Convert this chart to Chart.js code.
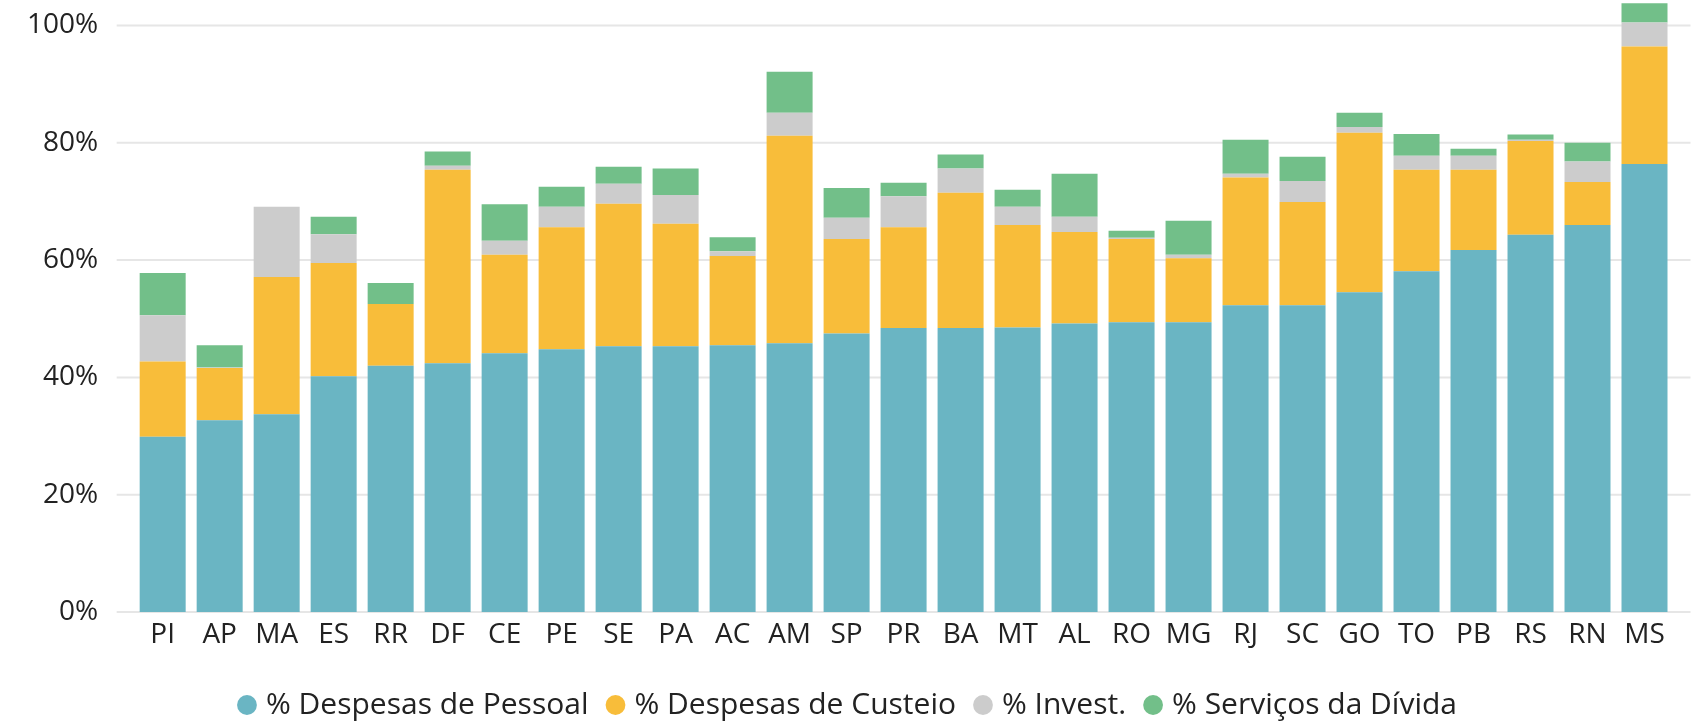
<!DOCTYPE html>
<html>
<head>
<meta charset="utf-8">
<script src="https://cdn.jsdelivr.net/npm/chart.js@4.4.1/dist/chart.umd.min.js"></script>
<style>
  html, body { margin: 0; padding: 0; background: #fff; }
  #wrap { width: 1699px; height: 722px; }
</style>
</head>
<body>
<div id="wrap"><canvas id="chart" width="1699" height="722"></canvas></div>
<script>
const estados = ["PI", "AP", "MA", "ES", "RR", "DF", "CE", "PE", "SE", "PA", "AC", "AM", "SP", "PR",
    "BA", "MT", "AL", "RO", "MG", "RJ", "SC", "GO", "TO", "PB", "RS", "RN", "MS"];

// percentuais
const pessoal = [29.9, 32.7, 33.7, 40.2, 42.0, 42.4, 44.1, 44.8, 45.3, 45.3, 45.5, 45.8, 47.5, 48.4,
    48.4, 48.5, 49.2, 49.4, 49.4, 52.3, 52.3, 54.5, 58.1, 61.7, 64.3, 66.0, 76.4];
const custeio = [12.8, 8.9, 23.4, 19.3, 10.5, 33.0, 16.8, 20.8, 24.3, 20.9, 15.2, 35.4, 16.1, 17.2,
    23.1, 17.5, 15.6, 14.2, 10.9, 21.8, 17.6, 27.2, 17.3, 13.7, 16.0, 7.3, 20.0];
const invest = [7.9, 0.1, 12.0, 4.9, 0, 0.7, 2.4, 3.5, 3.4, 4.9, 0.8, 3.9, 3.6, 5.3,
    4.1, 3.1, 2.6, 0.2, 0.6, 0.6, 3.6, 1.0, 2.4, 2.4, 0.2, 3.5, 4.1];
const divida = [7.2, 3.8, 0, 3.0, 3.6, 2.4, 6.2, 3.4, 2.9, 4.5, 2.4, 7.0, 5.1, 2.3,
    2.4, 2.9, 7.3, 1.2, 5.8, 5.8, 4.1, 2.4, 3.7, 1.2, 0.9, 3.2, 3.3];

const yTicks = [0, 20, 40, 60, 80, 100];

const FONT = "'Open Sans', 'Noto Sans', sans-serif";

// grid lines run a bit past the bars on both sides, like the original
const gridLines = {
    id: "gridLines",
    beforeDatasetsDraw(chart) {
        const { ctx, chartArea, scales } = chart;
        const ext = 17.5;
        ctx.save();
        ctx.strokeStyle = "#e6e6e6";
        ctx.lineWidth = 2;
        yTicks.forEach((v) => {
            const py = scales.y.getPixelForValue(v);
            ctx.beginPath();
            ctx.moveTo(chartArea.left - ext, py);
            ctx.lineTo(chartArea.right + ext, py);
            ctx.stroke();
        });
        ctx.restore();
    },
};

new Chart(document.getElementById("chart").getContext("2d"), {
    type: "bar",
    data: {
        labels: estados,
        datasets: [
            { label: "% Despesas de Pessoal", data: pessoal, backgroundColor: "#6ab5c3" },
            { label: "% Despesas de Custeio", data: custeio, backgroundColor: "#f8bd3a" },
            { label: "% Invest.", data: invest, backgroundColor: "#cccccc" },
            { label: "% Serviços da Dívida", data: divida, backgroundColor: "#72bf89" },
        ],
    },
    options: {
        responsive: false,
        animation: false,
        layout: { padding: { top: 2, left: 27, right: 26, bottom: -8 } },
        datasets: { bar: { barPercentage: 0.807, categoryPercentage: 1, borderWidth: 0 } },
        scales: {
            x: {
                stacked: true,
                grid: { display: false, drawTicks: false },
                border: { display: false },
                ticks: { color: "#222", font: { family: FONT, size: 28 }, padding: 6, maxRotation: 0 },
                afterFit: (scale) => {
                    scale.height = 55;
                },
            },
            y: {
                stacked: true,
                min: 0,
                max: 104,
                grid: { display: false, drawTicks: false },
                border: { display: false },
                afterBuildTicks: (scale) => {
                    scale.ticks = yTicks.map((v) => ({ value: v }));
                },
                afterFit: (scale) => {
                    // chart.js counts the tick padding twice; keep it once
                    scale.width -= scale.options.ticks.padding;
                    scale.paddingTop = 0;
                    scale.paddingBottom = 0;
                },
                ticks: {
                    color: "#222",
                    font: { family: FONT, size: 28 },
                    padding: 36,
                    callback: (v) => v + "%",
                },
            },
        },
        plugins: {
            legend: {
                position: "bottom",
                labels: {
                    color: "#222",
                    font: { family: FONT, size: 30 },
                    usePointStyle: true,
                    pointStyle: "circle",
                    boxWidth: 8,
                    boxHeight: 14,
                    padding: 23,
                },
            },
            tooltip: { enabled: false },
        },
    },
    plugins: [gridLines],
});
</script>
</body>
</html>
